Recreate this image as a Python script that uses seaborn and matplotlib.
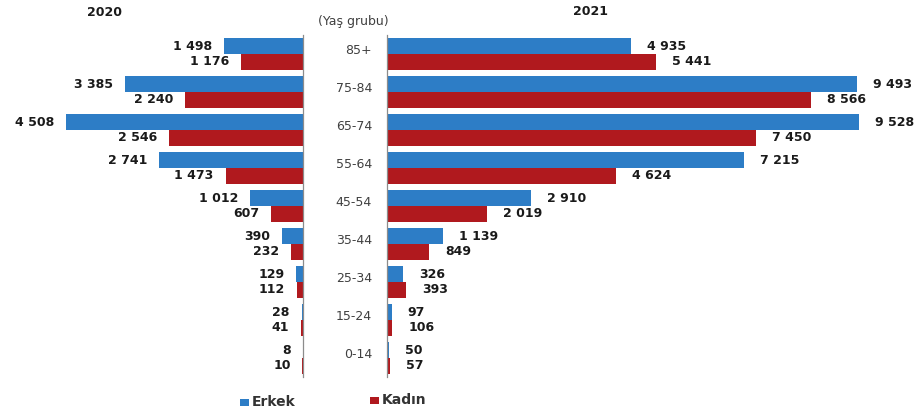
import matplotlib
matplotlib.use("Agg")
import matplotlib.pyplot as plt
import matplotlib.transforms as mtransforms
from matplotlib.patches import Rectangle
import pandas as pd
import seaborn as sns

# ---- data ----
age_groups = ["85+", "75-84", "65-74", "55-64", "45-54", "35-44", "25-34", "15-24", "0-14"]
male_2020 = [1498, 3385, 4508, 2741, 1012, 390, 129, 28, 8]
female_2020 = [1176, 2240, 2546, 1473, 607, 232, 112, 41, 10]
male_2021 = [4935, 9493, 9528, 7215, 2910, 1139, 326, 97, 50]
female_2021 = [5441, 8566, 7450, 4624, 2019, 849, 393, 106, 57]
sex_labels = ["Erkek", "Kadın"]
year_labels = ["2020", "2021"]
axis_title = "(Yaş grubu)"

BLUE = "#2D7DC6"
RED = "#B0191E"
SPINE = "#8c8c8c"
palette = {sex_labels[0]: BLUE, sex_labels[1]: RED}


def long_df(male, female):
    return pd.DataFrame({
        "group": age_groups * 2,
        "value": male + female,
        "sex": [sex_labels[0]] * len(age_groups) + [sex_labels[1]] * len(age_groups),
    })


def fmt(v):
    return f"{v:,}".replace(",", " ")


sns.set_theme(style="white")
plt.rcParams["font.family"] = ["DejaVu Sans"]

W, H = 920, 412
fig = plt.figure(figsize=(W / 100, H / 100), dpi=100)
fig.patch.set_facecolor("white")

bottom = 35 / H
height = 342 / H
ax_l = fig.add_axes([0.0, bottom, 303 / W, height])
ax_r = fig.add_axes([387 / W, bottom, 533 / W, height])

for ax, (male, female), xlim, pad in [
    (ax_l, (male_2020, female_2020), (5760, 0), 8.5),
    (ax_r, (male_2021, female_2021), (0, 10770), 11.5),
]:
    df = long_df(male, female)
    sns.barplot(data=df, y="group", x="value", hue="sex", orient="h",
                order=age_groups, hue_order=sex_labels, palette=palette,
                saturation=1, width=0.84, legend=False, ax=ax, linewidth=0)
    ax.set_ylim(len(age_groups) - 0.5, -0.5)
    ax.set_xlim(*xlim)
    for cont, vals in zip(ax.containers, (male, female)):
        ax.bar_label(cont, labels=[fmt(v) for v in vals], padding=pad,
                     fontsize=9, fontweight="bold", color="#1a1a1a")
    ax.set_xticks([])
    ax.set_yticks([])
    ax.set_xlabel("")
    ax.set_ylabel("")
    ax.set_facecolor("none")
    for s in ax.spines.values():
        s.set_visible(False)

ax_l.spines["right"].set_visible(True)
ax_l.spines["right"].set_color(SPINE)
ax_l.spines["right"].set_linewidth(0.9)
ax_r.spines["left"].set_visible(True)
ax_r.spines["left"].set_color(SPINE)
ax_r.spines["left"].set_linewidth(0.9)

# category labels in the middle gap
trans = mtransforms.blended_transform_factory(fig.transFigure, ax_r.transData)
for i, g in enumerate(age_groups):
    fig.text(372 / W, i - 0.08, g, transform=trans, ha="right", va="center",
             fontsize=9, color="#404040")

# titles
fig.text(105 / W, 1 - 13 / H, year_labels[0], ha="center", va="center",
         fontsize=9, fontweight="bold", color="#1a1a1a")
fig.text(591 / W, 1 - 11.5 / H, year_labels[1], ha="center", va="center",
         fontsize=9, fontweight="bold", color="#1a1a1a")
fig.text(353 / W, 1 - 21 / H, axis_title, ha="center", va="center",
         fontsize=9, color="#404040")

# legend
for (x0, yc, label, col) in [(240, 402, sex_labels[0], BLUE), (370, 400, sex_labels[1], RED)]:
    fig.patches.append(Rectangle((x0 / W, 1 - (yc + 3.5) / H), 9 / W, 7 / H,
                                 transform=fig.transFigure, facecolor=col,
                                 edgecolor="none"))
    fig.text((x0 + 12) / W, 1 - yc / H, label, ha="left", va="center",
             fontsize=10, fontweight="bold", color="#333333")

fig.savefig("out.png", dpi=100, facecolor="white")
